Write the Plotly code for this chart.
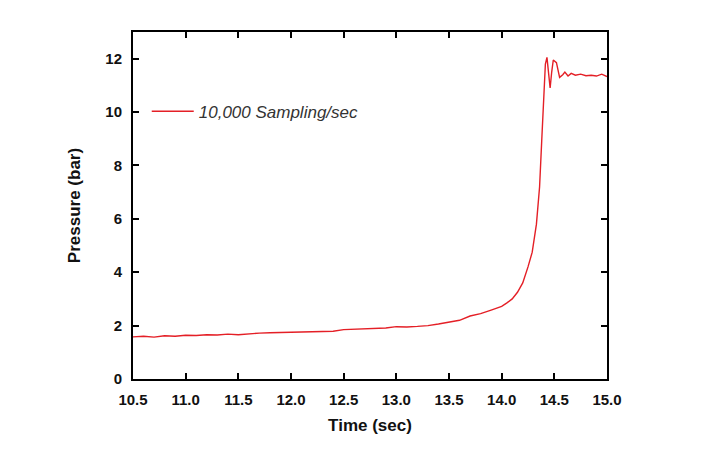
import plotly.graph_objects as go

time_s = [10.5, 10.6, 10.7, 10.8, 10.9, 11.0, 11.1, 11.2, 11.3, 11.4, 11.5, 11.6, 11.7, 11.8, 11.9,
          12.0, 12.1, 12.2, 12.3, 12.4, 12.5, 12.6, 12.7, 12.8, 12.9, 13.0, 13.1, 13.2, 13.3, 13.4,
          13.5, 13.6, 13.7, 13.8, 13.9, 14.0, 14.05, 14.1, 14.15, 14.2, 14.25, 14.29, 14.33, 14.36,
          14.38, 14.40, 14.415, 14.43, 14.445, 14.46, 14.475, 14.49, 14.52, 14.55, 14.58, 14.6,
          14.63, 14.66, 14.7, 14.75, 14.8, 14.85, 14.9, 14.95, 15.0]
pressure_bar = [1.58, 1.60, 1.57, 1.62, 1.60, 1.64, 1.63, 1.66, 1.65, 1.68, 1.66, 1.70, 1.72, 1.73, 1.74,
                1.76, 1.77, 1.79, 1.80, 1.79, 1.85, 1.86, 1.87, 1.90, 1.91, 1.96, 1.95, 1.97, 2.00, 2.06,
                2.12, 2.20, 2.36, 2.45, 2.58, 2.72, 2.85, 3.00, 3.25, 3.60, 4.20, 4.75, 5.80, 7.20,
                8.90, 10.50, 11.80, 12.05, 11.50, 10.90, 11.50, 11.95, 11.85, 11.30, 11.40, 11.50,
                11.35, 11.45, 11.38, 11.42, 11.36, 11.38, 11.35, 11.42, 11.33]
series_name = "10,000 Sampling/sec"
x_ticks = [10.5, 11.0, 11.5, 12.0, 12.5, 13.0, 13.5, 14.0, 14.5, 15.0]
y_ticks = [0, 2, 4, 6, 8, 10, 12]

fig = go.Figure()
fig.add_trace(go.Scatter(x=time_s, y=pressure_bar, mode="lines", name=series_name,
                         line=dict(color="#e41f26", width=1.4)))

axis_common = dict(showline=True, linewidth=2, linecolor="black", mirror="ticks",
                   ticks="inside", ticklen=6, tickwidth=2, tickcolor="black",
                   showgrid=False, zeroline=False, ticklabelstandoff=6,
                   tickfont=dict(family="Liberation Sans, Arial", size=15, color="#111", weight="bold"),
                   title_font=dict(family="Liberation Sans, Arial", size=17, color="#111", weight="bold"))

fig.update_xaxes(range=[10.5, 15.0], tickvals=x_ticks, ticktext=[f"{v:.1f}" for v in x_ticks],
                 title_text="Time (sec)", title_standoff=12, **axis_common)
fig.update_yaxes(range=[0, 13], tickvals=y_ticks, title_text="Pressure (bar)", title_standoff=20,
                 **axis_common)

fig.update_layout(width=727, height=455, margin=dict(l=125, r=128, t=24, b=84),
                  plot_bgcolor="white", paper_bgcolor="white",
                  showlegend=True,
                  legend=dict(x=0.029, y=0.822, xanchor="left", yanchor="top", bgcolor="rgba(0,0,0,0)",
                              itemwidth=42,
                              font=dict(family="Liberation Sans, Arial", size=17, color="#333", style="italic")))

fig.write_html("out.html")
